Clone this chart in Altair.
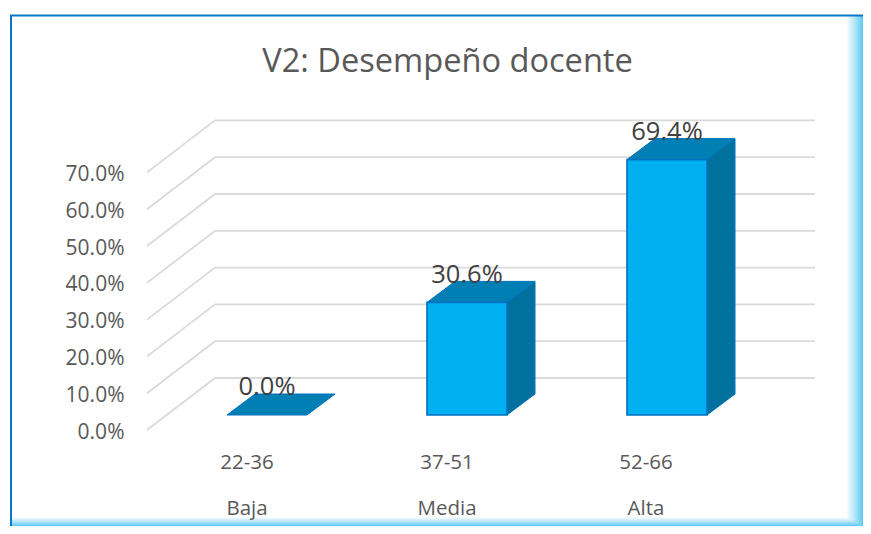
import altair as alt
import pandas as pd

categories = ["22-36", "37-51", "52-66"]
levels = ["Baja", "Media", "Alta"]
values = [0.0, 30.6, 69.4]
value_ticks = [0, 10, 20, 30, 40, 50, 60, 70]
title_text = "V2: Desempeño docente"

# page-pixel based scales
PX = 3.68
R_EDGE = 863
B_EDGE = 526
def yv(py):
    return (430 - py) / PX

FONT = "Open Sans"
TXT = "#595959"

axis = alt.Axis(values=value_ticks, labelExpr="format(datum.value,'.1f')+'%'", domain=False, ticks=False,
                grid=False, labelFont=FONT, labelFontSize=21, labelColor=TXT, labelPadding=0,
                labelOffset=2, offset=-116, title=None)

xs = alt.Scale(domain=[8, R_EDGE], range=[0, R_EDGE - 8], nice=False, zero=False)
ys = alt.Scale(domain=[yv(B_EDGE), yv(8)], range=[B_EDGE - 8, 0], nice=False, zero=False)
X = lambda f="x": alt.X(f"{f}:Q", scale=xs, axis=None)
Y = lambda f="y": alt.Y(f"{f}:Q", scale=ys, axis=axis)

# gradients
stops = [alt.GradientStop(offset=0, color="#FFFFFF"),
         alt.GradientStop(offset=0.5, color="#B5E6F9"),
         alt.GradientStop(offset=1, color="#5CC9F2")]
grad_r = alt.Gradient(gradient="linear", x1=0, y1=0, x2=1, y2=0, stops=stops)
grad_b = alt.Gradient(gradient="linear", x1=0, y1=0, x2=0, y2=1, stops=stops)

right_band = pd.DataFrame({"x": [846, R_EDGE], "y": [yv(16), yv(16)], "y2": [yv(B_EDGE), yv(B_EDGE)]})
bottom_band = pd.DataFrame({"x": [10, 846, R_EDGE], "y": [yv(517), yv(517), yv(B_EDGE)], "y2": [yv(B_EDGE)] * 3})

# grid: side wall + back wall
DEPTH = 52 / PX
rows = []
for t in value_ticks:
    rows += [{"t": t, "o": 0, "x": 147, "y": t},
             {"t": t, "o": 1, "x": 215, "y": t + DEPTH},
             {"t": t, "o": 2, "x": 815, "y": t + DEPTH}]
layers = [
    alt.Chart(pd.DataFrame(rows)).mark_line(color="#DADADA", strokeWidth=1.8)
        .encode(X(), Y(), detail="t:N", order="o:Q"),
    alt.Chart(right_band).mark_area(color=grad_r).encode(X(), Y(), y2="y2:Q"),
    alt.Chart(bottom_band).mark_area(color=grad_b).encode(X(), Y(), y2="y2:Q"),
    alt.Chart(pd.DataFrame({"x": [10.0], "x2": [float(R_EDGE)], "y": [yv(15.5)]})).mark_rule(color="#0A78C8", strokeWidth=2)
        .encode(X(), x2="x2:Q", y=Y()),
    alt.Chart(pd.DataFrame({"x": [11.0], "y": [yv(15)], "y2": [yv(B_EDGE)]})).mark_rule(color="#0A78C8", strokeWidth=2)
        .encode(X(), y=Y(), y2="y2:Q"),
]

# bars
FLOOR = 15 / PX
BD_Y = 21 / PX
BD_X = 28
BW = 80
front, top, side, labels = [], [], [], []
for i, (c, l, v) in enumerate(zip(categories, levels, values)):
    x0 = 227 + 200 * i
    x1 = x0 + BW
    f = FLOOR + v
    front.append({"x": x0, "x2": x1, "y": f, "y2": FLOOR})
    top += [{"b": i, "x": x0, "y": f, "y2": f},
            {"b": i, "x": x0 + BD_X, "y": f + BD_Y, "y2": f},
            {"b": i, "x": x1, "y": f + BD_Y, "y2": f},
            {"b": i, "x": x1 + BD_X, "y": f + BD_Y, "y2": f + BD_Y}]
    side += [{"b": i, "x": x1, "y": f, "y2": FLOOR},
             {"b": i, "x": x1 + BD_X, "y": f + BD_Y, "y2": FLOOR + BD_Y}]
    labels.append({"x": x0 + 40, "y": f + 7.5, "t": f"{v:.1f}%"})

layers += [
    alt.Chart(pd.DataFrame(side)).transform_filter("datum.y > datum.y2 + 7").mark_area(color="#00709C", stroke="#0070C0", strokeWidth=1)
        .encode(X(), Y(), y2="y2:Q", detail="b:N"),
    alt.Chart(pd.DataFrame(top)).mark_area(color="#007FB4", stroke="#0070C0", strokeWidth=1)
        .encode(X(), Y(), y2="y2:Q", detail="b:N"),
    alt.Chart(pd.DataFrame(front)).transform_filter("datum.y > datum.y2").mark_rect(color="#00B0F0", stroke="#0070C0", strokeWidth=1.6)
        .encode(X(), x2="x2:Q", y=Y(), y2="y2:Q"),
    alt.Chart(pd.DataFrame(labels)).mark_text(font=FONT, fontSize=25.5, color="#404040", align="center", baseline="middle")
        .encode(X(), Y(), text="t:N"),
]

# category rows
cat_x = [247, 447, 646]
cat_df = pd.DataFrame({"x": cat_x, "y": [yv(463)] * 3, "t": categories})
lev_df = pd.DataFrame({"x": cat_x, "y": [yv(508.5)] * 3, "t": levels})
for d in (cat_df, lev_df):
    layers.append(alt.Chart(d).mark_text(font=FONT, fontSize=20.5, color=TXT, align="center", baseline="middle")
                  .encode(X(), Y(), text="t:N"))

# title
layers.append(alt.Chart(pd.DataFrame({"x": [447.5], "y": [yv(62)], "t": [title_text]}))
              .mark_text(font=FONT, fontSize=32.6, color=TXT, align="center", baseline="middle")
              .encode(X(), Y(), text="t:N"))

chart = alt.layer(*layers).resolve_scale(x="shared", y="shared").properties(
    width=R_EDGE - 8, height=B_EDGE - 8, padding=0, autosize=alt.AutoSizeParams(type="none"), background="white"
).configure_view(stroke=None)

chart.save("out.html", embed_options={"renderer": "svg", "actions": False})
